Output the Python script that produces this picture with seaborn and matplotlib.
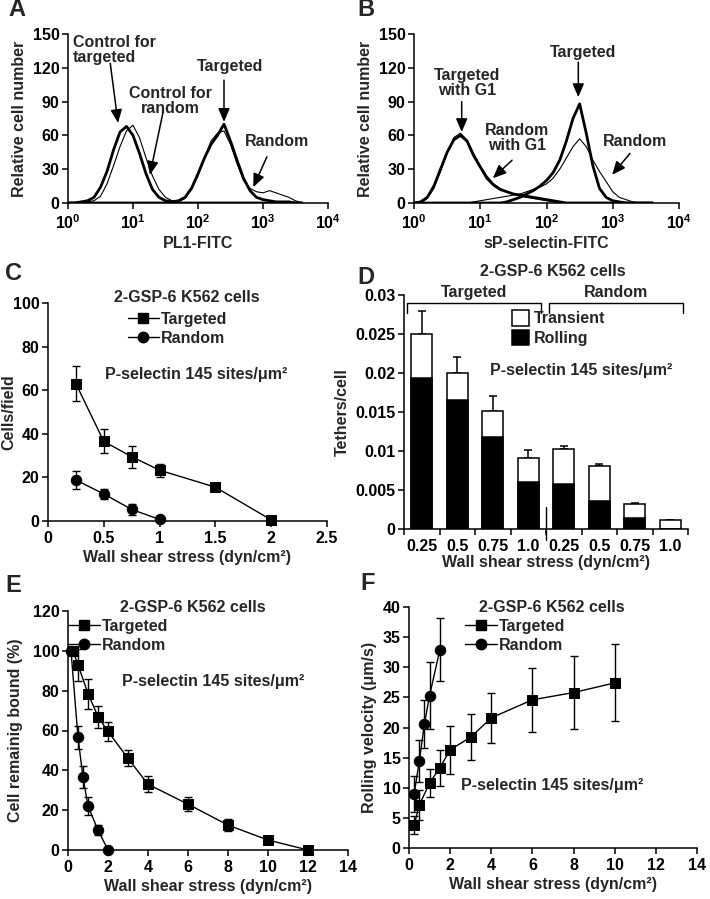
import numpy as np
import pandas as pd
import matplotlib
matplotlib.use("Agg")
import matplotlib.pyplot as plt
import seaborn as sns
from matplotlib.lines import Line2D
from matplotlib.patches import Patch
from matplotlib.ticker import NullLocator

# ------------------------------------------------------------------ data
# flow cytometry histograms (log10 fluorescence channel vs relative cell number)
fl_log = [0.0, 0.1, 0.2, 0.3, 0.4, 0.5, 0.6, 0.7, 0.8, 0.9,
          1.0, 1.1, 1.2, 1.3, 1.4, 1.5, 1.6, 1.7, 1.8, 1.9,
          2.0, 2.1, 2.2, 2.3, 2.4, 2.5, 2.6, 2.7, 2.8, 2.9,
          3.0, 3.1, 3.2, 3.3, 3.4, 3.5, 3.6]

A_ctrl_targeted = [0, 0, 1, 2, 5, 14, 28, 47, 63, 68, 60, 44, 26, 12, 5, 2, 1, 0, 0, 0,
                   0, 0, 0, 0, 0, 0, 0, 0, 0, 0, 0, 0, 0, 0, 0, 0, 0]
A_ctrl_random = [0, 0, 0, 1, 2, 6, 17, 33, 50, 64, 69, 58, 40, 24, 12, 5, 2, 1, 0, 0,
                 0, 0, 0, 0, 0, 0, 0, 0, 0, 0, 0, 0, 0, 0, 0, 0, 0]
A_targeted = [0, 0, 0, 0, 0, 0, 0, 0, 0, 0, 0, 0, 0, 0, 0, 0, 1, 2, 5, 13,
              26, 40, 52, 60, 70, 55, 38, 22, 11, 5, 3, 2, 1, 1, 1, 0, 0]
A_random = [0, 0, 0, 0, 0, 0, 0, 0, 0, 0, 0, 0, 0, 0, 0, 0, 0, 1, 4, 12,
            24, 40, 55, 62, 64, 52, 35, 20, 13, 10, 9, 11, 9, 7, 5, 2, 0]

B_targeted_G1 = [0, 1, 5, 15, 30, 45, 56, 60, 55, 42, 32, 22, 16, 12, 10, 8, 7, 6, 5, 4,
                 3, 2, 1, 0, 0, 0, 0, 0, 0, 0, 0, 0, 0, 0, 0, 0, 0]
B_random_G1 = [0, 0, 4, 13, 28, 44, 58, 62, 56, 44, 33, 24, 17, 13, 10, 8, 6, 5, 4, 3,
               2, 1, 0, 0, 0, 0, 0, 0, 0, 0, 0, 0, 0, 0, 0, 0, 0]
B_targeted = [0, 0, 0, 0, 0, 0, 0, 0, 0, 0, 0, 0, 0, 0, 1, 3, 5, 8, 11, 15,
              20, 27, 38, 55, 75, 88, 62, 33, 13, 5, 2, 1, 0, 0, 0, 0, 0]
B_random = [0, 0, 0, 0, 0, 0, 0, 0, 0, 1, 2, 3, 4, 5, 6, 7, 8, 10, 12, 14,
            17, 22, 30, 40, 50, 57, 50, 38, 28, 19, 10, 5, 3, 1, 0, 0, 0]

# C: cells/field vs wall shear stress
C_tgt_x = [0.25, 0.5, 0.75, 1.0, 1.5, 2.0]
C_tgt_y = [63, 36.5, 29.5, 23.3, 15.5, 0.5]
C_tgt_e = [8, 5.5, 5, 3, 1, 0]
C_rnd_x = [0.25, 0.5, 0.75, 1.0]
C_rnd_y = [18.8, 12.4, 5.3, 0.7]
C_rnd_e = [4, 2.5, 2.5, 0]

# D: tethers/cell
D_keys = ["T0.25", "T0.5", "T0.75", "T1.0", "R0.25", "R0.5", "R0.75", "R1.0"]
D_labels = ["0.25", "0.5", "0.75", "1.0", "0.25", "0.5", "0.75", "1.0"]
D_total = [0.0250, 0.0200, 0.0151, 0.0091, 0.0102, 0.0081, 0.0032, 0.0012]
D_rolling = [0.0194, 0.0165, 0.0118, 0.0060, 0.0058, 0.0036, 0.0014, 0.0]
D_err = [0.0030, 0.0020, 0.0019, 0.0010, 0.0004, 0.0002, 0.0001, 0.0]

# E: cells remaining bound
E_tgt_x = [0.25, 0.5, 1, 1.5, 2, 3, 4, 6, 8, 10, 12]
E_tgt_y = [100, 93, 78.5, 67, 59.5, 46, 33, 23, 12.5, 5, 0]
E_tgt_e = [1, 8, 7.5, 5.5, 5, 4, 4, 3.5, 3, 1.5, 0]
E_rnd_x = [0.15, 0.5, 0.75, 1, 1.5, 2]
E_rnd_y = [100, 56.5, 36.5, 22, 10, 0]
E_rnd_e = [1, 6, 5.5, 4.5, 2.5, 0]

# F: rolling velocity
F_tgt_x = [0.25, 0.5, 1, 1.5, 2, 3, 4, 6, 8, 10]
F_tgt_y = [3.8, 7.1, 10.8, 13.3, 16.3, 18.4, 21.6, 24.6, 25.8, 27.4]
F_tgt_e = [1.5, 2.5, 2.3, 3, 4, 3.8, 4.2, 5.3, 6, 6.4]
F_rnd_x = [0.25, 0.5, 0.75, 1, 1.5]
F_rnd_y = [9.0, 14.4, 20.6, 25.3, 32.9]
F_rnd_e = [3, 3.5, 4, 5.5, 5.2]

# ------------------------------------------------------------------ style
FS = 11.5
sns.set_theme(style="ticks")
plt.rcParams.update({
    "font.family": ["Liberation Sans", "DejaVu Sans"],
    "font.weight": "bold",
    "axes.labelweight": "bold",
    "font.size": FS,
    "axes.labelsize": FS,
    "xtick.labelsize": FS,
    "ytick.labelsize": FS,
    "axes.linewidth": 1.1,
    "axes.edgecolor": "black",
    "xtick.color": "black",
    "ytick.color": "black",
    "xtick.major.width": 1.1,
    "ytick.major.width": 1.1,
    "xtick.major.size": 4,
    "ytick.major.size": 4,
    "xtick.major.pad": 3.5,
    "ytick.major.pad": 2,
    "axes.labelpad": 2.5,
    "mathtext.fontset": "custom",
    "mathtext.rm": "Liberation Sans:bold",
    "mathtext.it": "Liberation Sans:bold",
    "mathtext.bf": "Liberation Sans:bold",
    "mathtext.default": "rm",
})

W, H = 710, 899
fig = plt.figure(figsize=(W / 100, H / 100), dpi=100)


def px_axes(l, r, t, b):
    return fig.add_axes([l / W, 1 - b / H, (r - l) / W, (b - t) / H])


def clean(ax):
    sns.despine(ax=ax)
    ax.tick_params(direction="out")


def ylabel_at(ax, text, px_right, left, right):
    # px_right: pixel x of the right edge of the rotated label
    ax.set_ylabel(text)
    ax.yaxis.set_label_coords((px_right - left) / (right - left), 0.5)


arrow_kw = dict(arrowstyle="-|>,head_length=0.7,head_width=0.3", color="black", lw=1.1,
                shrinkA=0, shrinkB=0)
fl_x = [10 ** v for v in fl_log]

# ------------------------------------------------------------------ A
axA = px_axes(68, 328, 34, 203)
sns.lineplot(x=fl_x, y=A_ctrl_random, ax=axA, color="black", lw=0.8)
sns.lineplot(x=fl_x, y=A_random, ax=axA, color="black", lw=0.8)
sns.lineplot(x=fl_x, y=A_ctrl_targeted, ax=axA, color="black", lw=2.0)
sns.lineplot(x=fl_x, y=A_targeted, ax=axA, color="black", lw=2.0)
axA.set_xscale("log")
axA.set_xlim(1, 1e4)
axA.set_ylim(0, 150)
axA.set_xticks([1, 10, 100, 1000, 10000])
axA.set_xticklabels([r"$10^{0}$", r"$10^{1}$", r"$10^{2}$", r"$10^{3}$", r"$10^{4}$"])
axA.xaxis.set_minor_locator(NullLocator())
axA.set_yticks([0, 30, 60, 90, 120, 150])
axA.set_xlabel("PL1-FITC")
ylabel_at(axA, "Relative cell number", 27, 68, 328)
clean(axA)
axA.text(10 ** 0.08, 149, "Control for\ntargeted", ha="left", va="top", linespacing=1.0)
axA.annotate("", xy=(10 ** 0.77, 71), xytext=(10 ** 0.65, 124), arrowprops=arrow_kw)
axA.text(10 ** 1.57, 104, "Control for\nrandom", ha="center", va="top", linespacing=1.0)
axA.annotate("", xy=(10 ** 1.26, 25), xytext=(10 ** 1.46, 80), arrowprops=arrow_kw)
axA.text(10 ** 2.5, 121, "Targeted", ha="center", va="center")
axA.annotate("", xy=(10 ** 2.4, 72), xytext=(10 ** 2.4, 109), arrowprops=arrow_kw)
axA.text(10 ** 3.22, 55, "Random", ha="center", va="center")
axA.annotate("", xy=(10 ** 2.85, 14), xytext=(10 ** 3.06, 41), arrowprops=arrow_kw)

# ------------------------------------------------------------------ B
axB = px_axes(414, 679, 34, 203)
sns.lineplot(x=fl_x, y=B_random_G1, ax=axB, color="black", lw=0.8)
sns.lineplot(x=fl_x, y=B_random, ax=axB, color="black", lw=0.8)
sns.lineplot(x=fl_x, y=B_targeted_G1, ax=axB, color="black", lw=2.0)
sns.lineplot(x=fl_x, y=B_targeted, ax=axB, color="black", lw=2.0)
axB.set_xscale("log")
axB.set_xlim(1, 1e4)
axB.set_ylim(0, 150)
axB.set_xticks([1, 10, 100, 1000, 10000])
axB.set_xticklabels([r"$10^{0}$", r"$10^{1}$", r"$10^{2}$", r"$10^{3}$", r"$10^{4}$"])
axB.xaxis.set_minor_locator(NullLocator())
axB.set_yticks([0, 30, 60, 90, 120, 150])
axB.set_xlabel("sP-selectin-FITC")
ylabel_at(axB, "Relative cell number", 373, 414, 679)
clean(axB)
axB.text(10 ** 0.8, 120, "Targeted\nwith G1", ha="center", va="top", linespacing=1.0)
axB.annotate("", xy=(10 ** 0.72, 63), xytext=(10 ** 0.72, 90), arrowprops=arrow_kw)
axB.text(10 ** 1.55, 71, "Random\nwith G1", ha="center", va="top", linespacing=1.0)
axB.annotate("", xy=(10 ** 1.19, 22), xytext=(10 ** 1.48, 38), arrowprops=arrow_kw)
axB.text(10 ** 2.55, 134, "Targeted", ha="center", va="center")
axB.annotate("", xy=(10 ** 2.48, 94), xytext=(10 ** 2.48, 125), arrowprops=arrow_kw)
axB.text(10 ** 3.33, 55, "Random", ha="center", va="center")
axB.annotate("", xy=(10 ** 2.99, 25), xytext=(10 ** 3.26, 44), arrowprops=arrow_kw)


# ------------------------------------------------------------------ line panels helper
def series_plot(ax, tx, ty, te, rx, ry, re):
    df = pd.DataFrame({
        "x": list(tx) + list(rx),
        "y": list(ty) + list(ry),
        "series": ["Targeted"] * len(tx) + ["Random"] * len(rx),
    })
    ax.errorbar(tx, ty, yerr=te, fmt="none", ecolor="black", elinewidth=1.0,
                capsize=3, capthick=1.0, clip_on=False, zorder=2)
    ax.errorbar(rx, ry, yerr=re, fmt="none", ecolor="black", elinewidth=1.0,
                capsize=3, capthick=1.0, clip_on=False, zorder=2)
    sns.lineplot(data=df, x="x", y="y", hue="series", style="series",
                 palette={"Targeted": "black", "Random": "black"},
                 markers={"Targeted": "s", "Random": "o"}, dashes=False,
                 markersize=7.5, markeredgecolor="black", lw=1.0, legend=False,
                 ax=ax, clip_on=False, zorder=3, sort=False)


def series_legend(ax, bx, by):
    handles = [Line2D([], [], color="black", marker="s", markersize=7.5, lw=1.0),
               Line2D([], [], color="black", marker="o", markersize=7.5, lw=1.0)]
    ax.legend(handles, ["Targeted", "Random"], loc="upper left", bbox_to_anchor=(bx, by),
              frameon=False, handlelength=2.0, handletextpad=0.1, labelspacing=0.25,
              borderaxespad=0, borderpad=0, fontsize=FS)


# ------------------------------------------------------------------ C
axC = px_axes(48, 327, 303, 521)
series_plot(axC, C_tgt_x, C_tgt_y, C_tgt_e, C_rnd_x, C_rnd_y, C_rnd_e)
axC.set_xlim(0, 2.5)
axC.set_ylim(0, 100)
axC.set_xticks([0, 0.5, 1, 1.5, 2, 2.5])
axC.set_xticklabels(["0", "0.5", "1", "1.5", "2", "2.5"])
axC.set_yticks([0, 20, 40, 60, 80, 100])
axC.set_xlabel("Wall shear stress (dyn/cm²)")
ylabel_at(axC, "Cells/field", 16, 48, 327)
clean(axC)
axC.text(1.245, 102.5, "2-GSP-6 K562 cells", ha="center", va="center")
series_legend(axC, 0.285, 0.96)
axC.text(1.33, 67, "P-selectin 145 sites/μm²", ha="center", va="center")

# ------------------------------------------------------------------ D
axD = px_axes(404, 688, 295, 529)
dfD = pd.DataFrame({"key": D_keys, "total": D_total, "rolling": D_rolling})
sns.barplot(data=dfD, x="key", y="total", order=D_keys, color="white", saturation=1,
            edgecolor="black", linewidth=1.1, width=0.58, ax=axD, zorder=2)
sns.barplot(data=dfD, x="key", y="rolling", order=D_keys, color="black", saturation=1,
            edgecolor="black", linewidth=1.1, width=0.58, ax=axD, zorder=3)
pos = np.arange(len(D_keys))
axD.errorbar(pos, D_total, yerr=[np.zeros(len(D_err)), D_err], fmt="none",
             ecolor="black", elinewidth=1.1, capsize=3, capthick=1.1, zorder=1)
axD.set_xlim(-0.5, len(D_keys) - 0.5)
axD.set_ylim(0, 0.03)
axD.set_yticks([0, 0.005, 0.01, 0.015, 0.02, 0.025, 0.03])
axD.set_yticklabels(["0", "0.005", "0.01", "0.015", "0.02", "0.025", "0.03"])
axD.set_xticks(np.arange(len(D_keys) + 1) - 0.5)
axD.set_xticklabels([""] * (len(D_keys) + 1))
axD.set_xticks(pos, minor=True)
axD.set_xticklabels(D_labels, minor=True)
axD.tick_params(axis="x", which="minor", length=0, pad=7)
axD.set_xlabel("Wall shear stress (dyn/cm²)", labelpad=1)
ylabel_at(axD, "Tethers/cell", 350, 404, 688)
clean(axD)
axD.plot([3.5, 3.5], [-0.0014, 0.0028], color="black", lw=1.0, clip_on=False)
# group brackets
for x0, x1, lab in [(-0.42, 3.36, "Targeted"), (3.58, 7.36, "Random")]:
    axD.plot([x0, x0, x1, x1], [0.0277, 0.0290, 0.0290, 0.0277], color="black",
             lw=1.0, clip_on=False)
    axD.text((x0 + x1) / 2, 0.0294, lab, ha="center", va="bottom")
axD.text(3.7, 0.0320, "2-GSP-6 K562 cells", ha="center", va="bottom")
axD.legend([Patch(facecolor="white", edgecolor="black", lw=1.1),
            Patch(facecolor="black", edgecolor="black", lw=1.1)],
           ["Transient", "Rolling"], loc="upper left", bbox_to_anchor=(0.38, 0.935),
           frameon=False, handlelength=1.1, handleheight=1.1, handletextpad=0.3,
           labelspacing=0.2, borderaxespad=0, borderpad=0, fontsize=FS)
axD.text(4.5, 0.0203, "P-selectin 145 sites/μm²", ha="center", va="center")

# ------------------------------------------------------------------ E
axE = px_axes(68, 348, 611, 850)
series_plot(axE, E_tgt_x, E_tgt_y, E_tgt_e, E_rnd_x, E_rnd_y, E_rnd_e)
axE.set_xlim(0, 14)
axE.set_ylim(0, 120)
axE.set_xticks([0, 2, 4, 6, 8, 10, 12, 14])
axE.set_yticks([0, 20, 40, 60, 80, 100, 120])
axE.set_xlabel("Wall shear stress (dyn/cm²)")
ylabel_at(axE, "Cell remainig bound (%)", 23, 68, 348)
clean(axE)
axE.text(6.25, 122, "2-GSP-6 K562 cells", ha="center", va="center")
series_legend(axE, 0.0, 0.968)
axE.text(7.25, 84.5, "P-selectin 145 sites/μm²", ha="center", va="center")

# ------------------------------------------------------------------ F
axF = px_axes(409, 697, 607, 848)
series_plot(axF, F_tgt_x, F_tgt_y, F_tgt_e, F_rnd_x, F_rnd_y, F_rnd_e)
axF.set_xlim(0, 14)
axF.set_ylim(0, 40)
axF.set_xticks([0, 2, 4, 6, 8, 10, 12, 14])
axF.set_yticks([0, 5, 10, 15, 20, 25, 30, 35, 40])
axF.set_xlabel("Wall shear stress (dyn/cm²)")
ylabel_at(axF, "Rolling velocity (μm/s)", 377, 409, 697)
clean(axF)
axF.text(6.95, 40, "2-GSP-6 K562 cells", ha="center", va="center")
series_legend(axF, 0.195, 0.95)
axF.text(6.95, 10.4, "P-selectin 145 sites/μm²", ha="center", va="center")

# ------------------------------------------------------------------ panel letters
for lab, x, y in [("A", 8, 10), ("B", 357, 10), ("C", 5, 273), ("D", 357, 278),
                  ("E", 5, 585), ("F", 360, 584)]:
    fig.text(x / W, 1 - y / H, lab, fontsize=17, fontweight="bold", ha="left", va="center")

fig.savefig("out.png", dpi=100)
